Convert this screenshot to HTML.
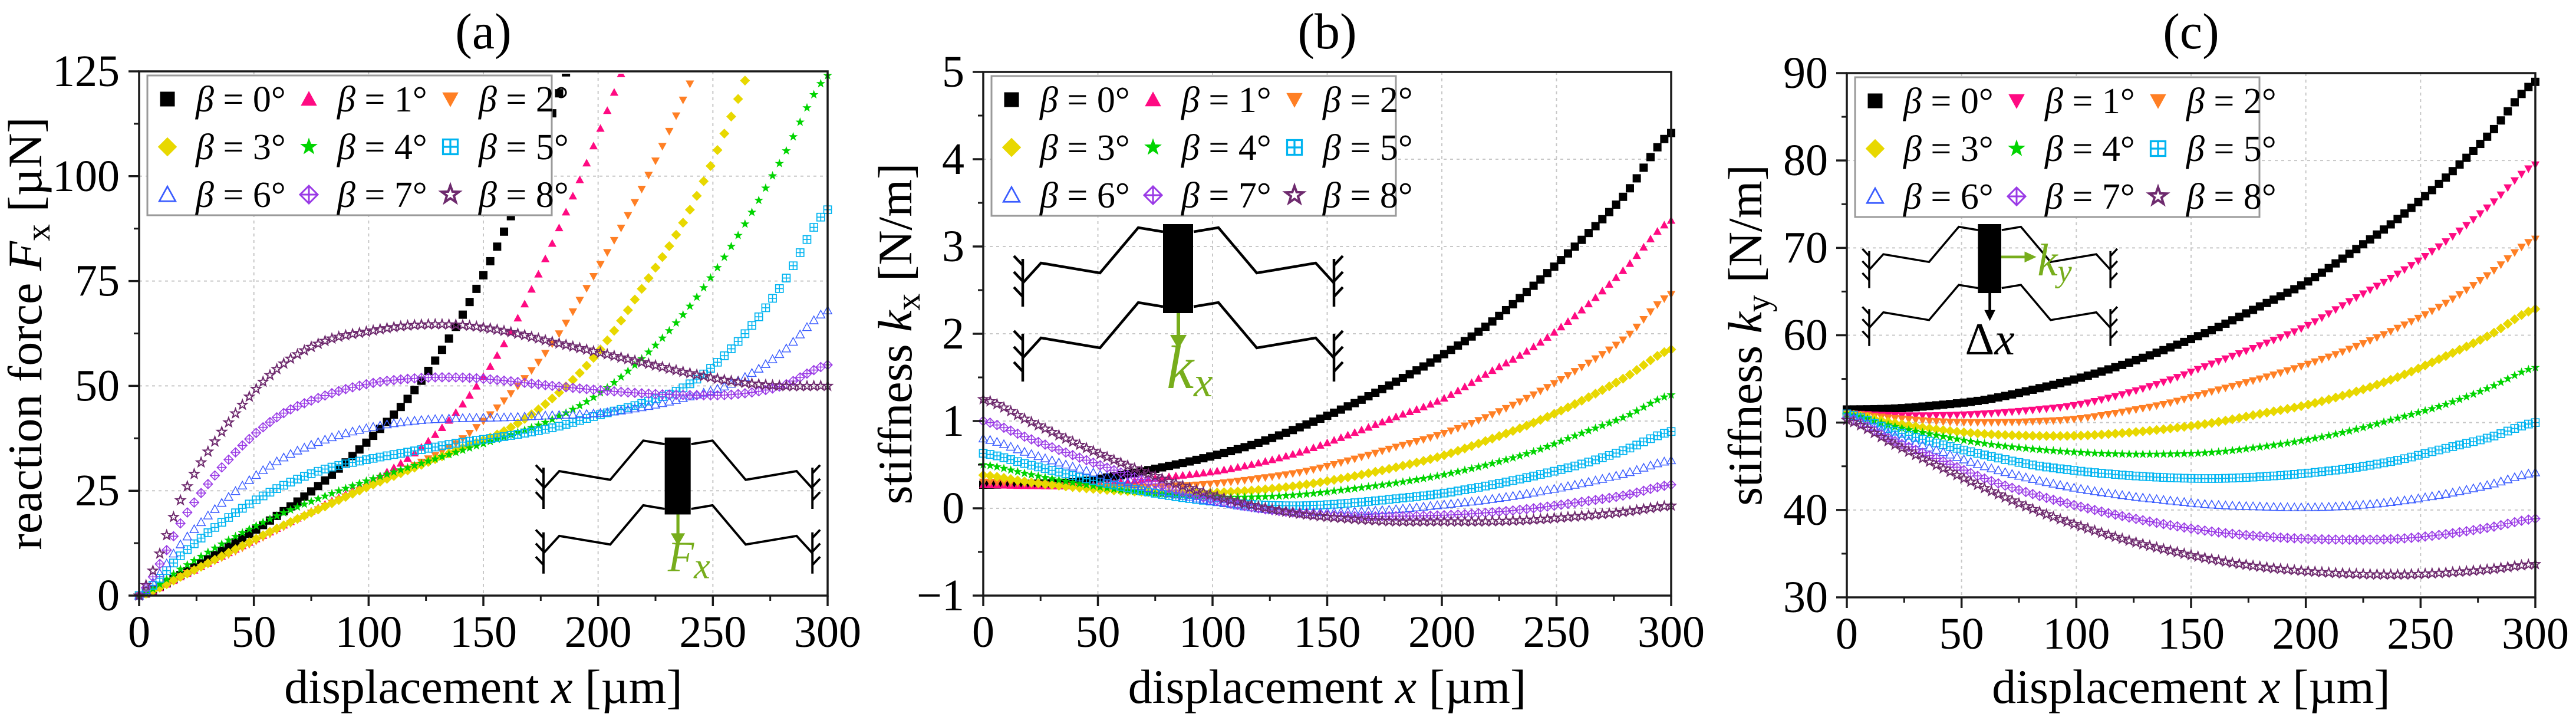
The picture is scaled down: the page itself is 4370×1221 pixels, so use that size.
<!DOCTYPE html>
<html><head><meta charset="utf-8">
<style>
html,body{margin:0;padding:0;background:#fff;}
svg{display:block;font-family:"Liberation Serif",serif;}
</style></head>
<body>
<svg id="fig" width="4370" height="1221" viewBox="0 0 4370 1221" xmlns="http://www.w3.org/2000/svg"></svg>
<script>
// ---------- data (x step 20 µm, 0..300) ----------
const xs = [0,20,40,60,80,100,120,140,160,180,200,220,240,260,280,300];
const betaLabels = ["0","1","2","3","4","5","6","7","8"];
// Panel (a): reaction force Fx [µN]
const fa0 = [0,5.5,12,19,27,37,49,66,88,115,150,190,230,270,310,350];
const fa1 = [0,5,10.5,16,21.5,27,34,45,61,84,110,140,175,210,250,290];
const fa2 = [0,5,10,15.5,21,26,31,37,47,60,78,98,122,150,180,210];
const fa3 = [0,5,10.5,16,21,26,30.5,35,39.5,47,58,74,92,117,148,180];
const fa4 = [0,7,13.5,19,23.5,27.5,31,34.5,38,42,48,57,69,85,104,124];
const fa5 = [0,10.5,19,25.5,30,32.5,34.5,36.5,38,40,43,46,50.5,60,74,92];
const fa6 = [0,13.5,24,32,37,40,41.7,42.3,42.5,43,43.5,45,47.5,51,58,68];
const fa7 = [0,19,33,42.5,47.5,50.5,51.8,52,51.2,50,49,48.2,47.8,48,50,55];
const fa8 = [0,25,42,54,60.5,63,64.5,64.5,63,60.5,58,55.5,53,51,50,50];
// Panel (b): stiffness kx [N/m]
const kb0 = [0.27,0.28,0.3,0.38,0.48,0.6,0.75,0.95,1.18,1.45,1.75,2.1,2.55,3.05,3.6,4.3];
const kb1 = [0.27,0.26,0.26,0.3,0.36,0.42,0.52,0.66,0.85,1.05,1.25,1.55,1.85,2.25,2.75,3.3];
const kb2 = [0.3,0.28,0.25,0.24,0.25,0.28,0.34,0.42,0.55,0.7,0.85,1.05,1.3,1.6,1.95,2.45];
const kb3 = [0.38,0.3,0.24,0.2,0.18,0.18,0.21,0.27,0.36,0.47,0.6,0.78,0.98,1.22,1.5,1.82];
const kb4 = [0.5,0.39,0.29,0.21,0.16,0.13,0.13,0.16,0.22,0.29,0.38,0.5,0.65,0.85,1.05,1.3];
const kb5 = [0.63,0.5,0.37,0.25,0.15,0.08,0.04,0.03,0.06,0.11,0.17,0.26,0.37,0.5,0.67,0.88];
const kb6 = [0.8,0.63,0.47,0.32,0.18,0.08,0.0,-0.04,-0.04,-0.01,0.04,0.1,0.18,0.28,0.4,0.55];
const kb7 = [1.0,0.8,0.6,0.41,0.24,0.1,0.0,-0.06,-0.09,-0.09,-0.08,-0.05,0.0,0.07,0.15,0.27];
const kb8 = [1.25,1.0,0.75,0.52,0.32,0.15,0.02,-0.07,-0.12,-0.15,-0.15,-0.15,-0.13,-0.09,-0.04,0.03];
// Panel (c): stiffness ky [N/m]
const kc0 = [51.5,51.6,52,52.6,53.7,55,56.6,58.5,60.7,63.3,66,69.5,73.3,77.8,83,89];
const kc1 = [51,50.8,50.8,51,51.4,52,53.2,54.8,56.8,58.8,61,64,67,70.5,74.8,79.5];
const kc2 = [51,50.5,50.1,50,50.1,50.4,51.2,52.2,53.6,55,56.6,58.5,60.8,63.5,67,71];
const kc3 = [51,50,49.2,48.7,48.5,48.5,48.8,49.3,50,51,52,53.4,55.2,57.5,60,63];
const kc4 = [51,49.6,48.5,47.6,47,46.6,46.4,46.4,46.6,47.2,48,49.1,50.5,52,54,56.3];
const kc5 = [51,49.1,47.6,46.3,45.2,44.5,44,43.7,43.6,43.8,44.2,44.8,45.7,47,48.3,50];
const kc6 = [50.8,48.6,46.8,45,43.6,42.5,41.7,41.1,40.6,40.4,40.3,40.5,41,41.8,42.9,44.3];
const kc7 = [50.5,48,45.8,43.6,41.9,40.5,39.3,38.3,37.5,37,36.7,36.6,36.7,37.2,38,39];
const kc8 = [50.3,47.6,45,42.5,40.2,38.3,36.7,35.4,34.3,33.5,33,32.7,32.6,32.8,33.2,33.8];
const xTicks = [0,50,100,150,200,250,300];
const yTicksA = [0,25,50,75,100,125];
const yTicksB = [-1,0,1,2,3,4,5];
const yTicksC = [30,40,50,60,70,80,90];

// ---------- helpers ----------
const NS="http://www.w3.org/2000/svg";
const svg=document.getElementById('fig');
function el(tag,attrs,parent){const e=document.createElementNS(NS,tag);for(const k in attrs)e.setAttribute(k,attrs[k]);(parent||svg).appendChild(e);return e;}
const colors=["#000000","#ff0a82","#ff7f24","#e8d800","#00d400","#00b4f0","#3a5cff","#9a3ae6","#6e2a6e"];
function interp(arr,x){ // Catmull-Rom through data points
  const h=20;let i=Math.min(Math.floor(x/h),arr.length-2);const t=(x-i*h)/h;
  const p0=arr[Math.max(i-1,0)],p1=arr[i],p2=arr[i+1],p3=arr[Math.min(i+2,arr.length-1)];
  return 0.5*((2*p1)+(-p0+p2)*t+(2*p0-5*p1+4*p2-p3)*t*t+(-p0+3*p1-3*p2+p3)*t*t*t);
}
function marker(g,type,cx,cy,s,c){
  const r=s/2;let m;
  if(type===0){m=el('rect',{x:cx-r,y:cy-r,width:s,height:s,fill:c},g);}
  else if(type===1){m=el('polygon',{points:`${cx},${cy-r*1.1} ${cx+r*1.1},${cy+r*0.9} ${cx-r*1.1},${cy+r*0.9}`,fill:c},g);}
  else if(type===2){m=el('polygon',{points:`${cx},${cy+r*1.1} ${cx+r*1.1},${cy-r*0.9} ${cx-r*1.1},${cy-r*0.9}`,fill:c},g);}
  else if(type===3){m=el('polygon',{points:`${cx},${cy-r*1.3} ${cx+r*1.3},${cy} ${cx},${cy+r*1.3} ${cx-r*1.3},${cy}`,fill:c},g);}
  else if(type===4||type===8){let p=[];for(let k=0;k<10;k++){const rr=k%2?r*0.5:r*1.25;const a=-Math.PI/2+k*Math.PI/5;p.push((cx+rr*Math.cos(a)).toFixed(1)+','+(cy+rr*Math.sin(a)).toFixed(1));}
    m=el('polygon',{points:p.join(' '),fill:type===4?c:'none',stroke:type===8?c:'none','stroke-width':s*0.16},g);}
  else if(type===5){m=el('path',{d:`M${cx-r},${cy-r}h${s}v${s}h${-s}z M${cx},${cy-r}v${s} M${cx-r},${cy}h${s}`,fill:'none',stroke:c,'stroke-width':s*0.13},g);}
  else if(type===6){m=el('polygon',{points:`${cx},${cy-r*1.1} ${cx+r*1.1},${cy+r*0.9} ${cx-r*1.1},${cy+r*0.9}`,fill:'none',stroke:c,'stroke-width':s*0.11},g);}
  else if(type===7){m=el('path',{d:`M${cx},${cy-r*1.2}L${cx+r*1.2},${cy}L${cx},${cy+r*1.2}L${cx-r*1.2},${cy}z M${cx},${cy-r*1.2}v${r*2.4} M${cx-r*1.2},${cy}h${r*2.4}`,fill:'none',stroke:c,'stroke-width':s*0.12},g);}
  return m;
}
function inset(g,ox,oy,sc,mode){
  const P=(x,y)=>`${(ox+x*sc).toFixed(1)},${(oy+y*sc).toFixed(1)}`;
  const W=528;
  const half=[[0,100],[31,66],[131,83],[196,6],[238,13]];
  for(const dy of [0,127]){
    const L=half.map(p=>P(p[0],p[1]+dy)).join(' ');
    const R=half.map(p=>P(W-p[0],p[1]+dy)).join(' ');
    const b1=el('polyline',{points:L,fill:'none',stroke:'#000','stroke-width':4.5*sc,'stroke-linejoin':'miter'},g);
    
    
    const b2=el('polyline',{points:R,fill:'none',stroke:'#000','stroke-width':4.5*sc},g);
    
    
    for(const ax of [0,W]){
      const dir=ax===0?-1:1;
      let d=`M${P(ax,dy+59)}L${P(ax,dy+140)}`;
      for(const yy of [70,97,123]) d+=`M${P(ax,dy+yy)}L${P(ax+dir*15,dy+yy-16)}`;
      const a=el('path',{d:d,fill:'none',stroke:'#000','stroke-width':4.5*sc},g);
      
      
    }
  }
  const blk=el('rect',{x:ox+238*sc,y:oy,width:51*sc,height:151*sc,fill:'#000'},g);
  
  
  const green='#77ad1c';
  if(mode==='a'||mode==='b'){
    const ar=el('path',{d:`M${P(264,151)}L${P(264,192)}`,stroke:green,'stroke-width':6*sc},g);
    
    
    el('polygon',{points:`${P(250,188)} ${P(278,188)} ${P(264,212)}`,fill:green},g);
    const t=el('text',{x:ox+244*sc,y:oy+(mode==='a'?262:278)*sc,'font-size':(mode==='a'?84:104)*sc,'font-style':'italic',fill:green},g);
    
    
    t.innerHTML=(mode==='a'?'F':'k')+`<tspan font-size="${72*sc}" dy="${14*sc}">x</tspan>`;
  } else {
    const ar=el('path',{d:`M${P(289,72)}L${P(345,72)}`,stroke:green,'stroke-width':6*sc},g);
    
    
    el('polygon',{points:`${P(340,60)} ${P(340,84)} ${P(366,72)}`,fill:green},g);
    const t=el('text',{x:ox+368*sc,y:oy+112*sc,'font-size':100*sc,'font-style':'italic',fill:green},g);
    
    
    t.innerHTML=`k<tspan font-size="${70*sc}" dy="${14*sc}">y</tspan>`;
    const ar2=el('path',{d:`M${P(264,151)}L${P(264,192)}`,stroke:'#000','stroke-width':6*sc},g);
    
    
    el('polygon',{points:`${P(252,188)} ${P(276,188)} ${P(264,212)}`,fill:'#000'},g);
    const t2=el('text',{x:ox+264*sc,y:oy+285*sc,'font-size':100*sc,'text-anchor':'middle',fill:'#000'},g);
    
    
    t2.innerHTML=`Δ<tspan font-style="italic">x</tspan>`;
  }
}

function panel(cfg){
  const g=el('g',{});
  
  
  const {L,R,T,B,ymin,ymax,yt}=cfg;
  const X=v=>L+(v-0)/300*(R-L);
  const Y=v=>B-(v-ymin)/(ymax-ymin)*(B-T);
  for(const v of xTicks.slice(1,-1)){const l=el('line',{x1:X(v),x2:X(v),y1:T,y2:B,stroke:'#c8c8c8','stroke-width':2,'stroke-dasharray':'5,6'},g);
    }
  for(const v of yt.slice(1,-1)){const l=el('line',{x1:L,x2:R,y1:Y(v),y2:Y(v),stroke:'#c8c8c8','stroke-width':2,'stroke-dasharray':'5,6'},g);
    }
  const tt=el('text',{x:(L+R)/2,y:82,'font-size':86,'text-anchor':'middle'},g);
  
  tt.textContent=cfg.title;
  const cid='clip'+cfg.title.replace(/\W/g,'');
  const cp=el('clipPath',{id:cid},g);el('rect',{x:L-10,y:T+4,width:R-L+20,height:B-T+10},cp);
  const sg=el('g',{'clip-path':`url(#${cid})`},g);
  cfg.series.forEach((arr,i)=>{
    const s=el('g',{},sg);
    
    
    const type=(cfg.tri1down&&i===1)?2:i;
    for(let x=0;x<=300;x+=3){
      const v=interp(arr,x);
      if(v>ymax+1)continue;
      const m=marker(s,type,X(x),Y(v),i===0?14:13,colors[i]);
      
      
    }
  });
  const fr=el('rect',{x:L,y:T,width:R-L,height:B-T,fill:'none',stroke:'#1a1a1a','stroke-width':3.5},g);
  
  for(const v of xTicks){
    el('line',{x1:X(v),x2:X(v),y1:B,y2:B+18,stroke:'#1a1a1a','stroke-width':3.5},g);
    const t=el('text',{x:X(v),y:B+87,'font-size':76,'text-anchor':'middle'},g);
    
    t.textContent=v;
  }
  for(let k=0;k<xTicks.length-1;k++){const v=(xTicks[k]+xTicks[k+1])/2;el('line',{x1:X(v),x2:X(v),y1:B,y2:B+9,stroke:'#1a1a1a','stroke-width':3},g);}
  for(const v of yt){
    el('line',{x1:L-18,x2:L,y1:Y(v),y2:Y(v),stroke:'#1a1a1a','stroke-width':3.5},g);
    const t=el('text',{x:cfg.ylx,y:Y(v)+25,'font-size':76,'text-anchor':'end'},g);
    
    t.textContent=v<0?'\u2212'+(-v):v;
  }
  for(let k=0;k<yt.length-1;k++){const v=(yt[k]+yt[k+1])/2;el('line',{x1:L-9,x2:L,y1:Y(v),y2:Y(v),stroke:'#1a1a1a','stroke-width':3},g);}
  const xt=el('text',{x:(L+R)/2,y:1192,'font-size':82,'text-anchor':'middle'},g);
  
  xt.innerHTML='displacement <tspan font-style="italic">x</tspan> [µm]';
  const yy=(T+B)/2;
  const ytt=el('text',{x:cfg.ytx,y:yy,'font-size':82,'text-anchor':'middle',transform:`rotate(-90 ${cfg.ytx} ${yy})`},g);
  
  ytt.innerHTML=cfg.ytitle;
  const lg=el('g',{},g);
  
  const lx=L+14, ly=T+7;
  el('rect',{x:lx,y:ly,width:686,height:237,fill:'#fff',stroke:'#9a9a9a','stroke-width':3},lg);
  for(let i=0;i<9;i++){
    const row=Math.floor(i/3),col=i%3;
    const mx=lx+34+col*240, my=ly+40+row*81;
    const e=el('g',{},lg);
    
    
    const type=(cfg.tri1down&&i===1)?2:i;
    marker(e,type,mx,my,25,colors[i]);
    const t=el('text',{x:mx+48,y:my+21,'font-size':62},e);
    t.innerHTML=`<tspan font-style="italic">β</tspan> = ${betaLabels[i]}°`;
  }
  inset(g,cfg.inset[0],cfg.inset[1],cfg.inset[2],cfg.inset[3]);
}

panel({name:'panel-a-reaction-force',title:'(a)',L:236,R:1404,T:121,B:1010,ymin:0,ymax:125,yt:yTicksA,ylx:203,ytx:70,
  ytitle:'reaction force <tspan font-style="italic">F</tspan><tspan font-size="58" dy="14">x</tspan><tspan dy="-14"> [µN]</tspan>',
  series:[fa0,fa1,fa2,fa3,fa4,fa5,fa6,fa7,fa8],inset:[922,742,0.864,'a']});
panel({name:'panel-b-stiffness-kx',title:'(b)',L:1668,R:2835,T:122,B:1010,ymin:-1,ymax:5,yt:yTicksB,ylx:1636,ytx:1546,
  ytitle:'stiffness <tspan font-style="italic">k</tspan><tspan font-size="58" dy="14">x</tspan><tspan dy="-14"> [N/m]</tspan>',
  series:[kb0,kb1,kb2,kb3,kb4,kb5,kb6,kb7,kb8],inset:[1735,380,1.0,'b']});
panel({name:'panel-c-stiffness-ky',title:'(c)',L:3133,R:4301,T:124,B:1013,ymin:30,ymax:90,yt:yTicksC,ylx:3101,ytx:2988,tri1down:true,
  ytitle:'stiffness <tspan font-style="italic">k</tspan><tspan font-size="58" dy="14">y</tspan><tspan dy="-14"> [N/m]</tspan>',
  series:[kc0,kc1,kc2,kc3,kc4,kc5,kc6,kc7,kc8],inset:[3171,380,0.775,'c']});
</script>
</body></html>
